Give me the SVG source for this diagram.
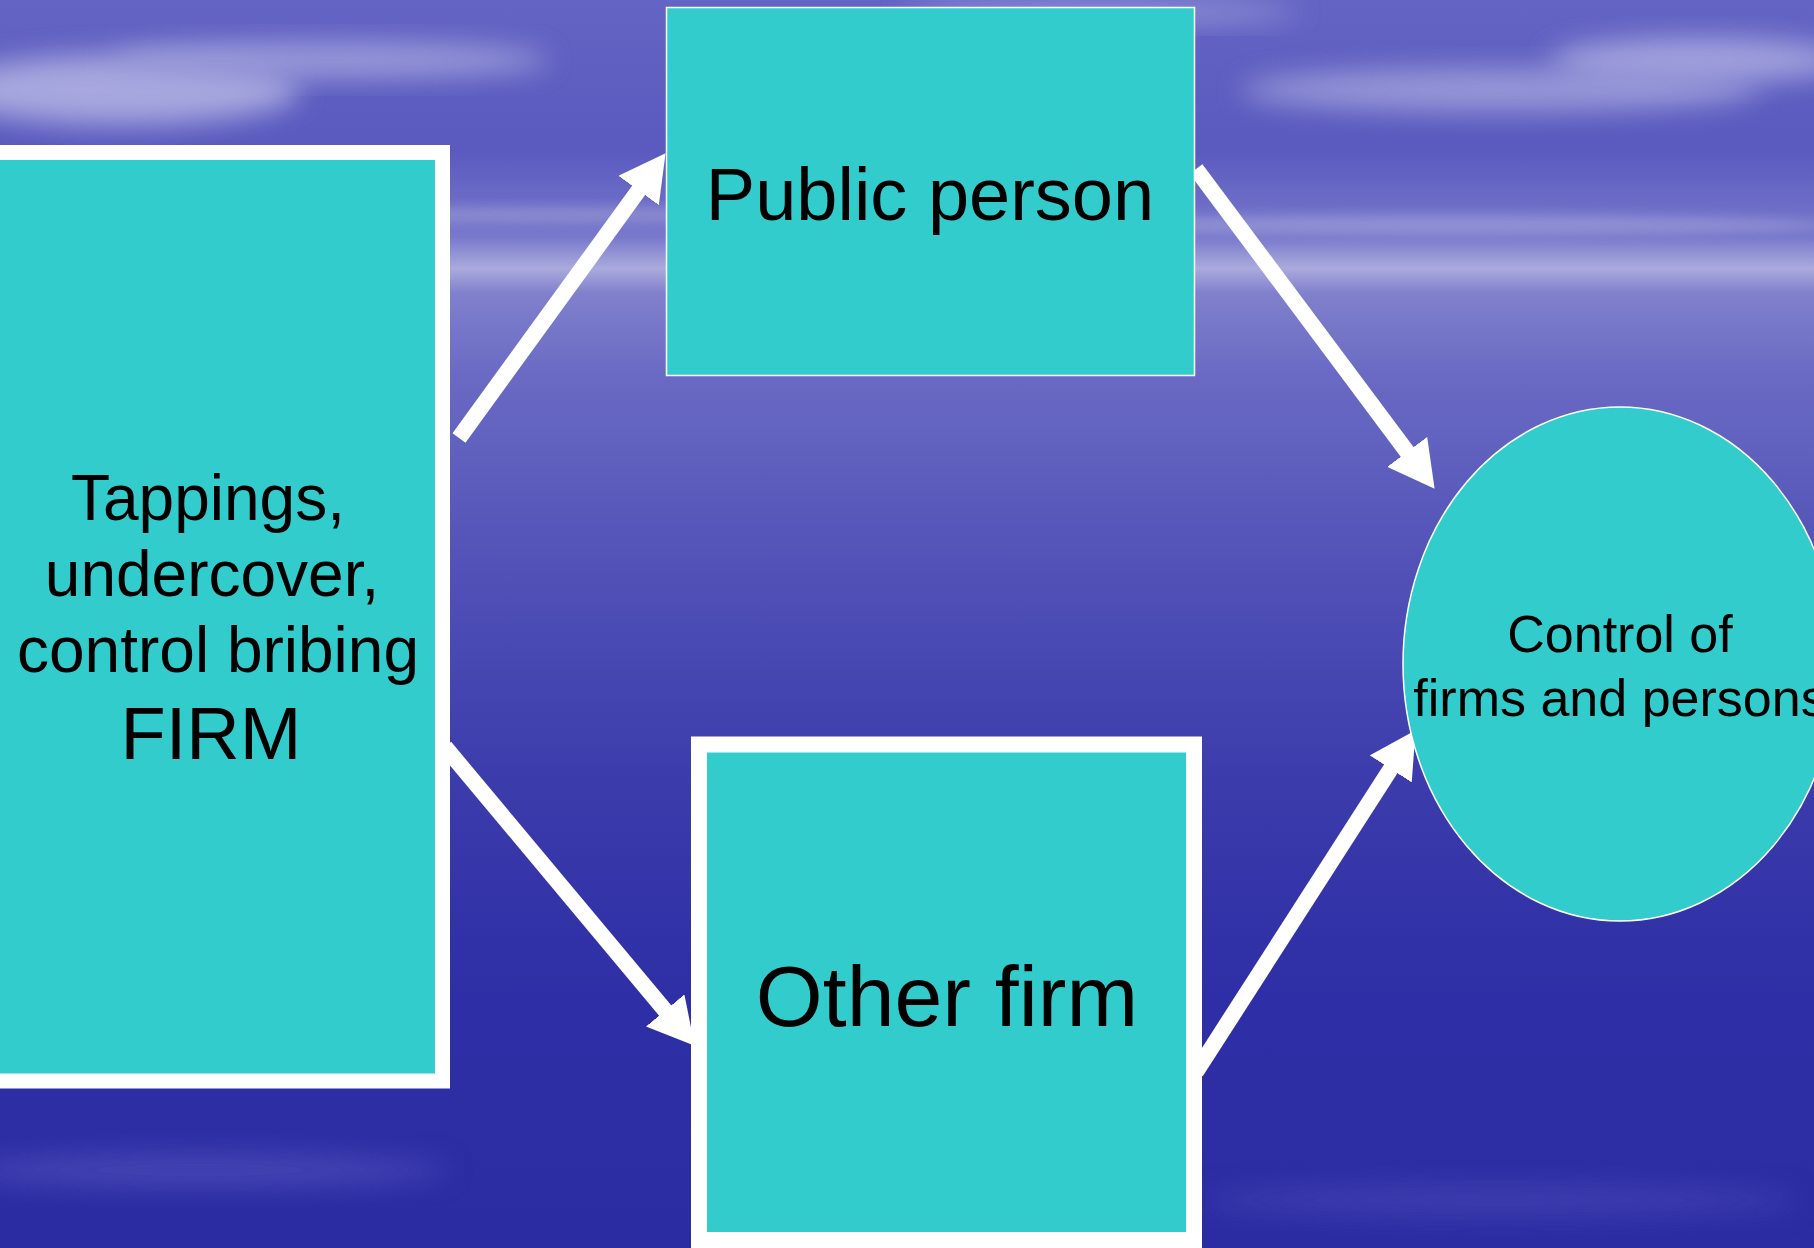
<svg xmlns="http://www.w3.org/2000/svg" width="1814" height="1248" viewBox="0 0 1814 1248">
<defs>
<linearGradient id="bg" x1="0" y1="0" x2="0" y2="1">
<stop offset="0" stop-color="#6464c4"/>
<stop offset="0.12" stop-color="#5a5abf"/>
<stop offset="0.19" stop-color="#7878cc"/>
<stop offset="0.215" stop-color="#aaaadd"/>
<stop offset="0.235" stop-color="#8080cc"/>
<stop offset="0.3" stop-color="#6a6ac4"/>
<stop offset="0.45" stop-color="#5252b8"/>
<stop offset="0.62" stop-color="#3c3cac"/>
<stop offset="0.8" stop-color="#2e2ea6"/>
<stop offset="1" stop-color="#2c2ca2"/>
</linearGradient>
<filter id="blur" x="-50%" y="-50%" width="200%" height="200%"><feGaussianBlur stdDeviation="14"/></filter>
<filter id="blur2" x="-50%" y="-50%" width="200%" height="200%"><feGaussianBlur stdDeviation="6"/></filter>
<marker id="ah" markerUnits="userSpaceOnUse" markerWidth="46" markerHeight="50" refX="5" refY="25" orient="auto">
<path d="M0,0 L46,25 L0,50 z" fill="#ffffff"/>
</marker>
<style>
.box{fill:#33cccc;stroke:#ffffff}
.thick{stroke-width:15}
.thin{stroke-width:1.5}
.arrow{stroke:#ffffff;stroke-width:16;fill:none;marker-end:url(#ah)}
.t{font-family:"Liberation Sans",Arial,sans-serif;fill:#000000;text-anchor:middle}
</style>
</defs>
<rect x="0" y="0" width="1814" height="1248" fill="url(#bg)"/>
<g id="background" opacity="0.7">
<ellipse cx="120" cy="90" rx="180" ry="35" fill="#c8c8ec" filter="url(#blur)"/>
<ellipse cx="330" cy="60" rx="220" ry="18" fill="#b4b4e4" filter="url(#blur)"/>
<ellipse cx="1500" cy="90" rx="260" ry="22" fill="#b0b0e2" filter="url(#blur)"/>
<ellipse cx="1700" cy="60" rx="150" ry="22" fill="#c0c0ea" filter="url(#blur)"/>
<ellipse cx="1450" cy="225" rx="380" ry="10" fill="#9c9cd8" filter="url(#blur2)"/>
<ellipse cx="550" cy="215" rx="260" ry="8" fill="#9696d4" filter="url(#blur2)"/>
<ellipse cx="1100" cy="12" rx="200" ry="12" fill="#a8a8e0" filter="url(#blur)"/>
<ellipse cx="200" cy="1170" rx="250" ry="18" fill="#5050bc" filter="url(#blur)"/>
<ellipse cx="1500" cy="1200" rx="300" ry="18" fill="#4444b4" filter="url(#blur)"/>
</g>
<g id="connectors">
<line class="arrow" x1="459" y1="438" x2="641.5" y2="186.4"/>
<line class="arrow" x1="1196" y1="169" x2="1410.1" y2="455.9"/>
<line class="arrow" x1="445" y1="747" x2="668.4" y2="1014.3"/>
<line class="arrow" x1="1196" y1="1072" x2="1393.4" y2="764.7"/>
</g>
<g id="node-firm">
<rect class="box thick" x="-20" y="152.5" width="462.5" height="928.5"/>
<text class="t" font-size="64" x="208" y="520">Tappings,</text>
<text class="t" font-size="64" x="212" y="596">undercover,</text>
<text class="t" font-size="64" x="218" y="672">control bribing</text>
<text class="t" font-size="74" x="211" y="759">FIRM</text>
</g>
<g id="node-public-person">
<rect class="box thin" x="666.5" y="7.5" width="528" height="368"/>
<text class="t" font-size="74" x="930" y="220">Public person</text>
</g>
<g id="node-other-firm">
<rect class="box" stroke-width="16" x="699" y="744.5" width="495" height="495.5"/>
<text class="t" font-size="86" x="947" y="1026">Other firm</text>
</g>
<g id="node-control">
<ellipse class="box thin" cx="1620" cy="664" rx="217" ry="257"/>
<text class="t" font-size="52" x="1620" y="652">Control of</text>
<text class="t" font-size="52" x="1620" y="716">firms and persons</text>
</g>
</svg>
